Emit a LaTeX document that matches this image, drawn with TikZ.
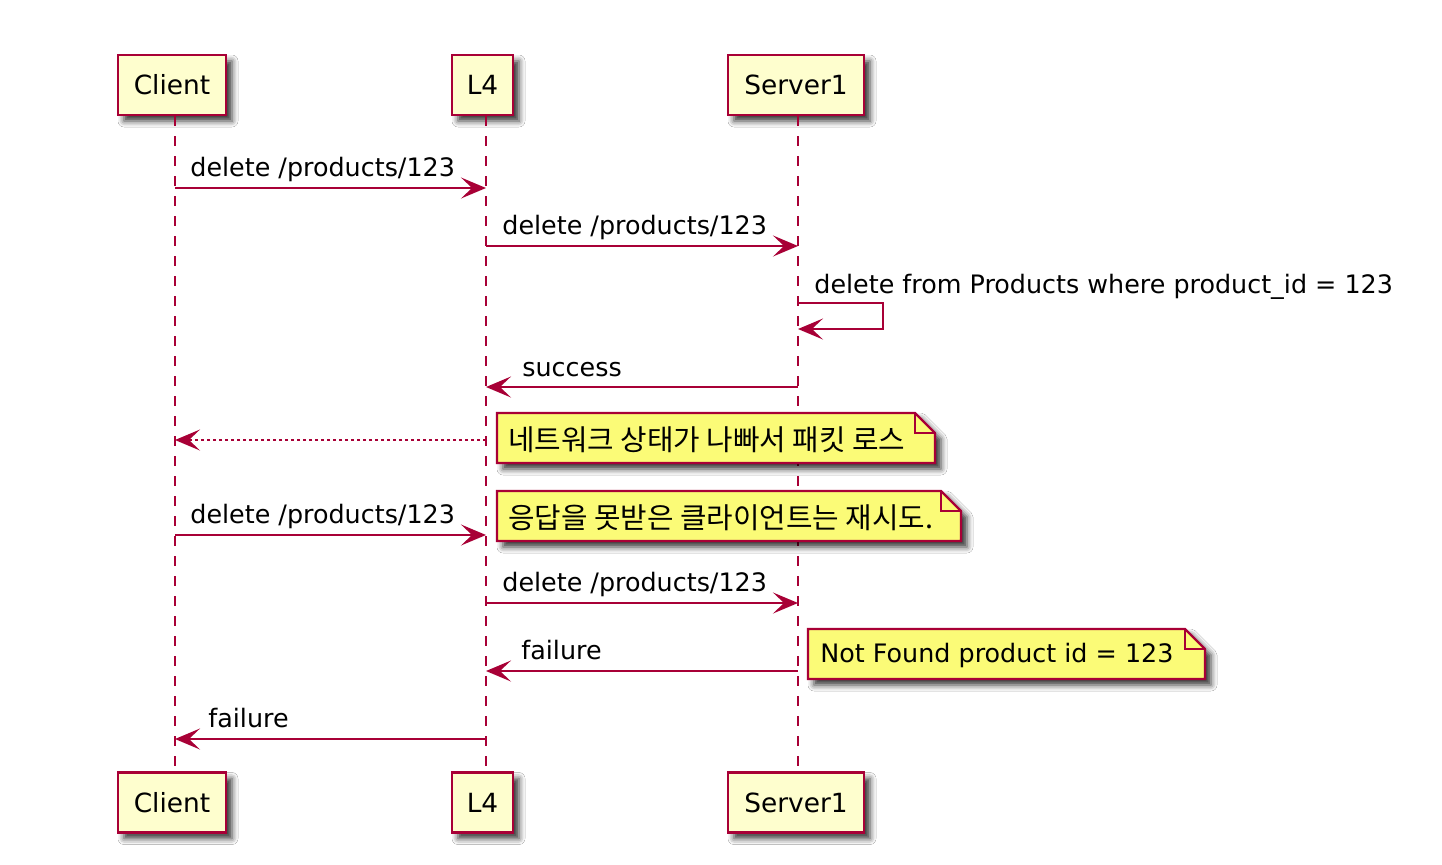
\documentclass[tikz,border=0pt]{standalone}
\usepackage{fontspec}
\setmainfont{DejaVu Sans}
\newfontfamily\kr{Noto Sans CJK KR}
\usetikzlibrary{arrows.meta,shadows,shadows.blur,calc}
\definecolor{pborder}{HTML}{A80036}
\definecolor{pfill}{HTML}{FEFECE}
\definecolor{nfill}{HTML}{FBFB77}
\begin{document}
\begin{tikzpicture}[x=0.5pt,y=-0.5pt,
  shad/.style={blur shadow={shadow xshift=3pt,shadow yshift=-3pt,shadow blur radius=3pt,shadow opacity=80}},
  part/.style={draw=pborder,fill=pfill,line width=1.3pt,minimum height=30pt,inner sep=0pt,font=\fontsize{13.2}{16}\selectfont,shad},
  life/.style={draw=pborder,line width=1pt,dash pattern=on 5pt off 5pt},
  msg/.style={draw=pborder,line width=1pt,-{Stealth[length=12.5pt,width=10.5pt,inset=5.5pt]}},
  ret/.style={msg,dash pattern=on 1.5pt off 1.5pt},
  lbl/.style={anchor=base west,inner sep=0pt,font=\fontsize{12.7}{15}\selectfont},
  notebox/.style={draw=pborder,fill=nfill,line width=1.1pt,shad},
  notetxt/.style={anchor=base west,inner sep=0pt,font=\kr\fontsize{14.4}{17}\selectfont},
]
\useasboundingbox[fill=white] (0,0) rectangle (1442,864);

% lifeline positions
\coordinate (lC) at (175,0);
\coordinate (lL) at (486,0);
\coordinate (lS) at (798,0);

% participants
\node[part,minimum width=54pt] (ct) at (172,85) {Client};
\node[part,minimum width=30.5pt] (lt) at (482.5,85) {L4};
\node[part,minimum width=68pt] (st) at (796,85) {Server1};
\node[part,minimum width=54pt] (cb) at (172,802.5) {Client};
\node[part,minimum width=30.5pt] (lb) at (482.5,802.5) {L4};
\node[part,minimum width=68pt] (sb) at (796,802.5) {Server1};

% lifelines
\draw[life] (lC |- ct.south) -- (lC |- cb.north);
\draw[life] (lL |- lt.south) -- (lL |- lb.north);
\draw[life] (lS |- st.south) -- (lS |- sb.north);

% messages
\draw[msg] (lC |- 0,188) -- (lL |- 0,188);
\node[lbl] (m1) at (190,176) {delete /products/123};

\draw[msg] (lL |- 0,246) -- (lS |- 0,246);
\node[lbl] (m2) at (502,234) {delete /products/123};

\draw[msg] (lS |- 0,303) -- (883,303) -- (883,329) -- (lS |- 0,329);
\node[lbl] (m3) at (814,293) {delete from Products where product\_id = 123};

\draw[msg] (lS |- 0,387) -- (lL |- 0,387);
\node[lbl] (m4) at (522,376) {success};

\draw[ret] (lL |- 0,440) -- (lC |- 0,440);

% note 1
\draw[notebox] (497,413) -- (915,413) -- (935,433) -- (935,463) -- (497,463) -- cycle;
\draw[draw=pborder,line width=1.1pt] (915,413) -- (915,433) -- (935,433);
\node[notetxt] (n1) at (508,450) {네트워크 상태가 나빠서 패킷 로스};

\draw[msg] (lC |- 0,535) -- (lL |- 0,535);
\node[lbl] (m6) at (190,523) {delete /products/123};

% note 2
\draw[notebox] (497,491) -- (941,491) -- (961,511) -- (961,541) -- (497,541) -- cycle;
\draw[draw=pborder,line width=1.1pt] (941,491) -- (941,511) -- (961,511);
\node[notetxt] (n2) at (508,528) {응답을 못받은 클라이언트는 재시도.};

\draw[msg] (lL |- 0,603) -- (lS |- 0,603);
\node[lbl] (m7) at (502,591) {delete /products/123};

\draw[msg] (lS |- 0,671) -- (lL |- 0,671);
\node[lbl] (m8) at (521,659) {failure};

% note 3
\draw[notebox] (808,629) -- (1185,629) -- (1205,649) -- (1205,679) -- (808,679) -- cycle;
\draw[draw=pborder,line width=1.1pt] (1185,629) -- (1185,649) -- (1205,649);
\node[lbl,font=\fontsize{12.7}{15}\selectfont] (n3) at (820,662) {Not Found product id = 123};

\draw[msg] (lL |- 0,739) -- (lC |- 0,739);
\node[lbl] (m9) at (208,727) {failure};
\end{tikzpicture}
\end{document}
